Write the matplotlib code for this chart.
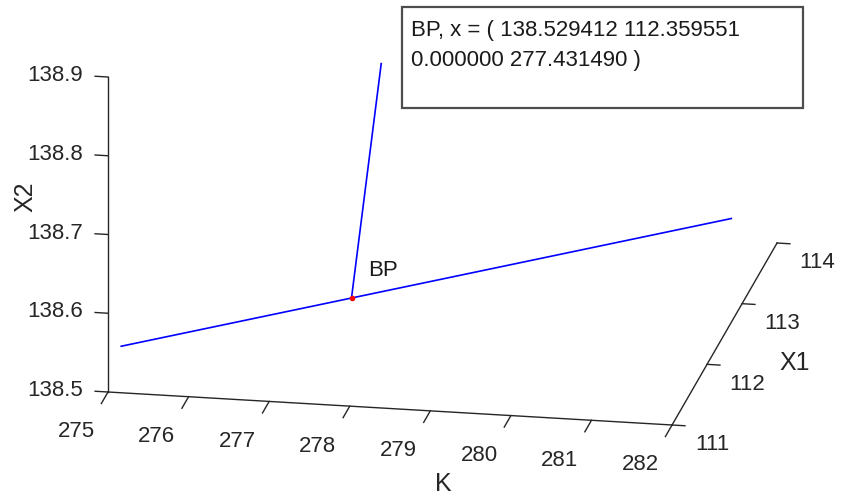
import matplotlib
matplotlib.use('Agg')
import matplotlib.pyplot as plt
from matplotlib.patches import Rectangle
from mpl_toolkits.mplot3d import proj3d

plt.rcParams['font.family'] = ['Liberation Sans', 'DejaVu Sans']

# branch data: (K, X1, X2)
k_trivial = [275.0, 281.44]
x1_trivial = [111.378, 113.984]
x2_trivial = [138.529, 138.529]

k_branch = [277.431, 277.80]
x1_branch = [112.360, 112.360]
x2_branch = [138.529, 138.829]

bp_k, bp_x1, bp_x2 = 277.431490, 112.359551, 138.529412
bp_text = 'BP, x = ( 138.529412 112.359551'
bp_text2 = '0.000000 277.431490 )'

k_ticks = [275, 276, 277, 278, 279, 280, 281, 282]
x1_ticks = [111, 112, 113, 114]
x2_ticks = [138.5, 138.6, 138.7, 138.8, 138.9]

axcol = '#262626'
W, H = 844, 500

fig = plt.figure(figsize=(W / 100, H / 100), dpi=100)
ax = fig.add_axes([0, 0, 1, 1], projection='3d')
ax.set_proj_type('ortho')
ax.view_init(elev=18.57, azim=-79.59)
aspect = (573.5, 581.0, 332.3)
ax.set_box_aspect(aspect)
ax.set_xlim(275, 282)
ax.set_ylim(111, 114)
ax.set_zlim(138.5, 138.9)
ax.set_axis_off()
ax.computed_zorder = False


def seg(xs, ys, zs, **kw):
    ln, = ax.plot(xs, ys, zs, **kw)
    ln.set_clip_on(False)
    return ln


# MATLAB-style axis lines
seg([275, 282], [111, 111], [138.5, 138.5], color=axcol, lw=1.0)
seg([282, 282], [111, 114], [138.5, 138.5], color=axcol, lw=1.0)
seg([275, 275], [111, 111], [138.5, 138.9], color=axcol, lw=1.0)

labels = []  # (x, y, z, text, kwargs) placed once the view is fitted
for k in k_ticks:
    seg([k, k], [111, 110.81], [138.5, 138.5], color=axcol, lw=1.0)
    labels.append((k - 0.107, 110.333, 138.5, str(k),
                   dict(ha='center', va='center', fontsize=16, color=axcol)))
for x1 in x1_ticks:
    seg([282, 282.16], [x1, x1], [138.5, 138.5], color=axcol, lw=1.0)
    labels.append((282.62, x1 - 0.28, 138.5, str(x1),
                   dict(ha='center', va='center', fontsize=16, color=axcol)))
for z in x2_ticks:
    seg([275, 274.84], [111, 111], [z, z], color=axcol, lw=1.0)
    labels.append((274.69, 111, z, '%.1f' % z,
                   dict(ha='right', va='center', fontsize=16, color=axcol)))

labels.append((273.97, 111, 138.7415, 'X2',
               dict(rotation=90, ha='center', va='center', fontsize=18, color=axcol)))
labels.append((279.663, 109.84, 138.5, 'K',
               dict(ha='center', va='center', fontsize=18, color=axcol)))
labels.append((283.04, 112.10, 138.5, 'X1',
               dict(ha='center', va='center', fontsize=18, color=axcol)))
labels.append((bp_k + 0.2035, bp_x1, bp_x2 + 0.0364, 'BP',
               dict(ha='left', va='center', fontsize=16, color='#1a1a1a')))

# branches
seg(k_trivial, x1_trivial, x2_trivial, color='blue', lw=1.2)
seg(k_branch, x1_branch, x2_branch, color='blue', lw=1.2)
seg([bp_k], [bp_x1], [bp_x2], marker='o', ls='none', color='red', ms=3)


def to_px(x, y, z):
    xs, ys, _ = proj3d.proj_transform(x, y, z, ax.get_proj())
    return ax.transData.transform((xs, ys))


# fit the box: X2 axis 315 px tall, its foot at (108, 392) from top-left
zoom = 1.0
pos = [0, 0, 1, 1]
for _ in range(2):
    fig.canvas.draw()
    a = to_px(275, 111, 138.5)
    t = to_px(275, 111, 138.9)
    zoom *= 315 / (t[1] - a[1])
    ax.set_box_aspect(aspect, zoom=zoom)
    fig.canvas.draw()
    a = to_px(275, 111, 138.5)
    pos = [pos[0] + (108 - a[0]) / W, pos[1] + (108 - a[1]) / H, 1, 1]
    ax.set_position(pos)

fig.canvas.draw()
for x, y, z, s, kw in labels:
    p = to_px(x, y, z)
    fig.text(p[0] / W, p[1] / H, s, **kw)

# info box
fig.patches.append(Rectangle((401.7 / W, 1 - 108 / H), (803 - 401.7) / W,
                             (108 - 6.7) / H, transform=fig.transFigure,
                             fill=False, edgecolor='#4d4d4d', lw=1.6))
fig.text(410.7 / W, 1 - 36 / H, bp_text, fontsize=16, color='#1a1a1a',
         va='baseline', ha='left')
fig.text(410.7 / W, 1 - 66 / H, bp_text2, fontsize=16, color='#1a1a1a',
         va='baseline', ha='left')

fig.savefig('out.png', dpi=100)
